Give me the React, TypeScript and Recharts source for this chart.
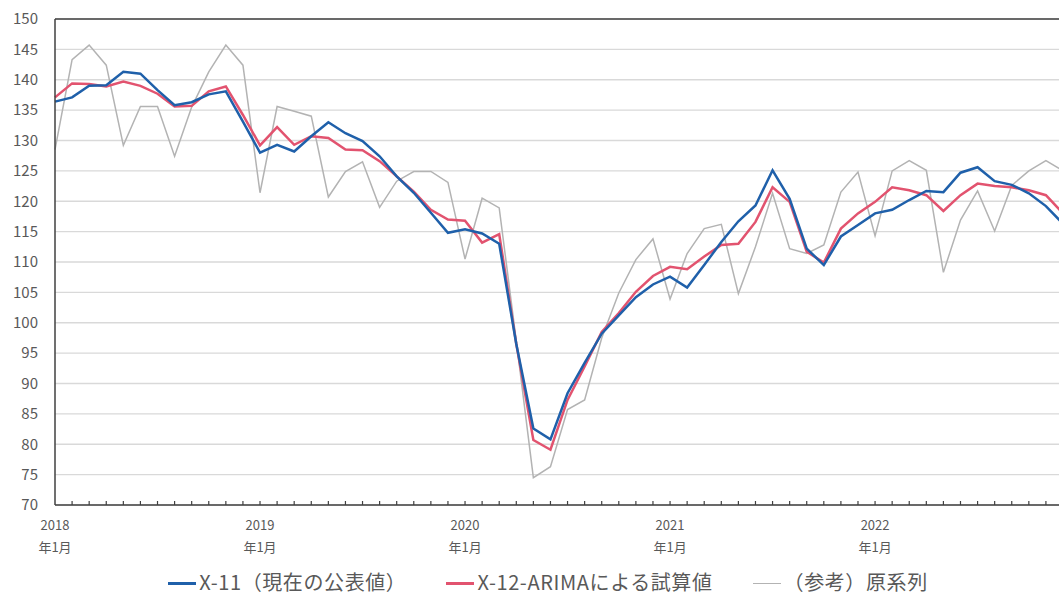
import React from "react";
import {
  CartesianGrid,
  Legend,
  Line,
  LineChart,
  ReferenceLine,
  XAxis,
  YAxis,
} from "recharts";

const months = [
  "2018/01", "2018/02", "2018/03", "2018/04", "2018/05", "2018/06", "2018/07", "2018/08", "2018/09", "2018/10", "2018/11", "2018/12",
  "2019/01", "2019/02", "2019/03", "2019/04", "2019/05", "2019/06", "2019/07", "2019/08", "2019/09", "2019/10", "2019/11", "2019/12",
  "2020/01", "2020/02", "2020/03", "2020/04", "2020/05", "2020/06", "2020/07", "2020/08", "2020/09", "2020/10", "2020/11", "2020/12",
  "2021/01", "2021/02", "2021/03", "2021/04", "2021/05", "2021/06", "2021/07", "2021/08", "2021/09", "2021/10", "2021/11", "2021/12",
  "2022/01", "2022/02", "2022/03", "2022/04", "2022/05", "2022/06", "2022/07", "2022/08", "2022/09", "2022/10", "2022/11", "2022/12",
];

// X-11 (current published values)
const x11 = [
  136.4, 137.1, 139.0, 139.1, 141.3, 141.0, 138.3, 135.8, 136.3, 137.6, 138.1, 133.1,
  128.0, 129.3, 128.2, 130.7, 133.0, 131.2, 129.9, 127.4, 124.1, 121.4, 118.1, 114.8,
  115.4, 114.7, 113.0, 96.5, 82.6, 80.8, 88.4, 93.4, 98.2, 101.2, 104.2, 106.3,
  107.6, 105.8, 109.5, 113.3, 116.7, 119.3, 125.1, 120.4, 112.2, 109.5, 114.2, 116.1,
  118.0, 118.6, 120.2, 121.7, 121.5, 124.7, 125.6, 123.3, 122.7, 121.3, 119.2, 116.3,
];

// X-12-ARIMA trial values
const x12arima = [
  137.1, 139.4, 139.3, 138.9, 139.7, 139.0, 137.7, 135.6, 135.7, 138.1, 138.9, 134.2,
  129.2, 132.2, 129.3, 130.7, 130.4, 128.5, 128.4, 126.6, 124.1, 121.6, 118.6, 117.0,
  116.8, 113.2, 114.6, 96.5, 80.7, 79.1, 87.3, 92.8, 98.5, 101.6, 105.1, 107.7,
  109.2, 108.8, 110.9, 112.8, 113.0, 116.6, 122.3, 119.9, 111.7, 109.9, 115.5, 118.0,
  119.9, 122.3, 121.8, 121.0, 118.4, 121.0, 122.9, 122.5, 122.3, 121.8, 121.0, 118.0,
];

// original series (reference)
const original = [
  128.5, 143.3, 145.7, 142.4, 129.2, 135.6, 135.6, 127.4, 135.5, 141.3, 145.7, 142.4,
  121.4, 135.6, 134.8, 134.0, 120.7, 124.9, 126.5, 119.0, 123.3, 124.9, 124.9, 123.1,
  110.5, 120.5, 118.9, 97.0, 74.5, 76.3, 85.7, 87.3, 97.5, 104.9, 110.4, 113.8,
  103.9, 111.4, 115.5, 116.2, 104.8, 112.5, 121.3, 112.2, 111.4, 112.8, 121.5, 124.8,
  114.3, 125.0, 126.7, 125.1, 108.3, 116.9, 121.7, 115.1, 122.6, 125.0, 126.7, 125.0,
];

const yTicks = [70, 75, 80, 85, 90, 95, 100, 105, 110, 115, 120, 125, 130, 135, 140, 145, 150];

const seriesInfo = [
  { key: "x11", name: "X-11（現在の公表値）", color: "#1f60aa", width: 2.5 },
  { key: "x12", name: "X-12-ARIMAによる試算値", color: "#e2536f", width: 2.5 },
  { key: "orig", name: "（参考）原系列", color: "#b3b3b3", width: 1.5 },
];

const data = months.map((m, i) => ({
  month: m,
  x11: x11[i],
  x12: x12arima[i],
  orig: original[i],
}));

const FONT = '"Noto Sans CJK JP", "Noto Sans", sans-serif';
const TEXT = "#595959";
const AXIS = "#404040";

function MonthTick(props: any) {
  const { x, y, payload, index } = props;
  const [year, mon] = String(payload.value).split("/");
  return (
    <g>
      {index > 0 && <line x1={x} y1={y} x2={x} y2={y - 4} stroke={AXIS} strokeWidth={1.2} />}
      {mon === "01" && (
        <g fill={TEXT} fontSize={13} fontFamily={FONT} textAnchor="middle">
          <text x={x} y={y + 25}>{year}</text>
          <text x={x} y={y + 47}>年1月</text>
        </g>
      )}
    </g>
  );
}

function LegendBox() {
  return (
    <div
      style={{
        display: "flex",
        justifyContent: "center",
        alignItems: "center",
        gap: 40,
        fontFamily: FONT,
        fontSize: 20,
        letterSpacing: 0.6,
        color: TEXT,
      }}
    >
      {seriesInfo.map((s) => (
        <div key={s.key} style={{ display: "flex", alignItems: "center" }}>
          <span
            style={{
              display: "inline-block",
              width: 28,
              height: s.width,
              background: s.color,
              marginRight: 3,
              marginTop: 4,
            }}
          />
          <span>{s.name}</span>
        </div>
      ))}
    </div>
  );
}

export default function App() {
  return (
    <div style={{ position: "absolute", left: 0, top: 0, width: 1059, height: 597, overflow: "hidden", background: "#fff" }}>
      <LineChart
        width={1096}
        height={597}
        data={data}
        margin={{ top: 19, right: 33, bottom: 0, left: 0 }}
      >
        <CartesianGrid vertical={false} stroke="#d9d9d9" strokeWidth={1.3} />
        <XAxis
          dataKey="month"
          interval={0}
          tickLine={false}
          tickSize={0}
          tickMargin={0}
          height={64}
          axisLine={{ stroke: AXIS, strokeWidth: 1.5 }}
          tick={<MonthTick />}
        />
        <YAxis
          domain={[70, 150]}
          ticks={yTicks}
          width={55}
          tickLine={false}
          tickSize={0}
          tickMargin={17}
          axisLine={{ stroke: AXIS, strokeWidth: 1.5 }}
          tick={{ fill: TEXT, fontSize: 15, fontFamily: FONT }}
        />
        <ReferenceLine y={150} stroke={AXIS} strokeWidth={1.5} />
        <Line
          type="linear"
          dataKey="orig"
          name={seriesInfo[2].name}
          stroke={seriesInfo[2].color}
          strokeWidth={seriesInfo[2].width}
          dot={false}
          isAnimationActive={false}
        />
        <Line
          type="linear"
          dataKey="x12"
          name={seriesInfo[1].name}
          stroke={seriesInfo[1].color}
          strokeWidth={seriesInfo[1].width}
          dot={false}
          isAnimationActive={false}
        />
        <Line
          type="linear"
          dataKey="x11"
          name={seriesInfo[0].name}
          stroke={seriesInfo[0].color}
          strokeWidth={seriesInfo[0].width}
          dot={false}
          isAnimationActive={false}
        />
        <Legend
          content={<LegendBox />}
          wrapperStyle={{ position: "absolute", top: 567, left: 0, width: 1096, height: 28 }}
        />
      </LineChart>
    </div>
  );
}
